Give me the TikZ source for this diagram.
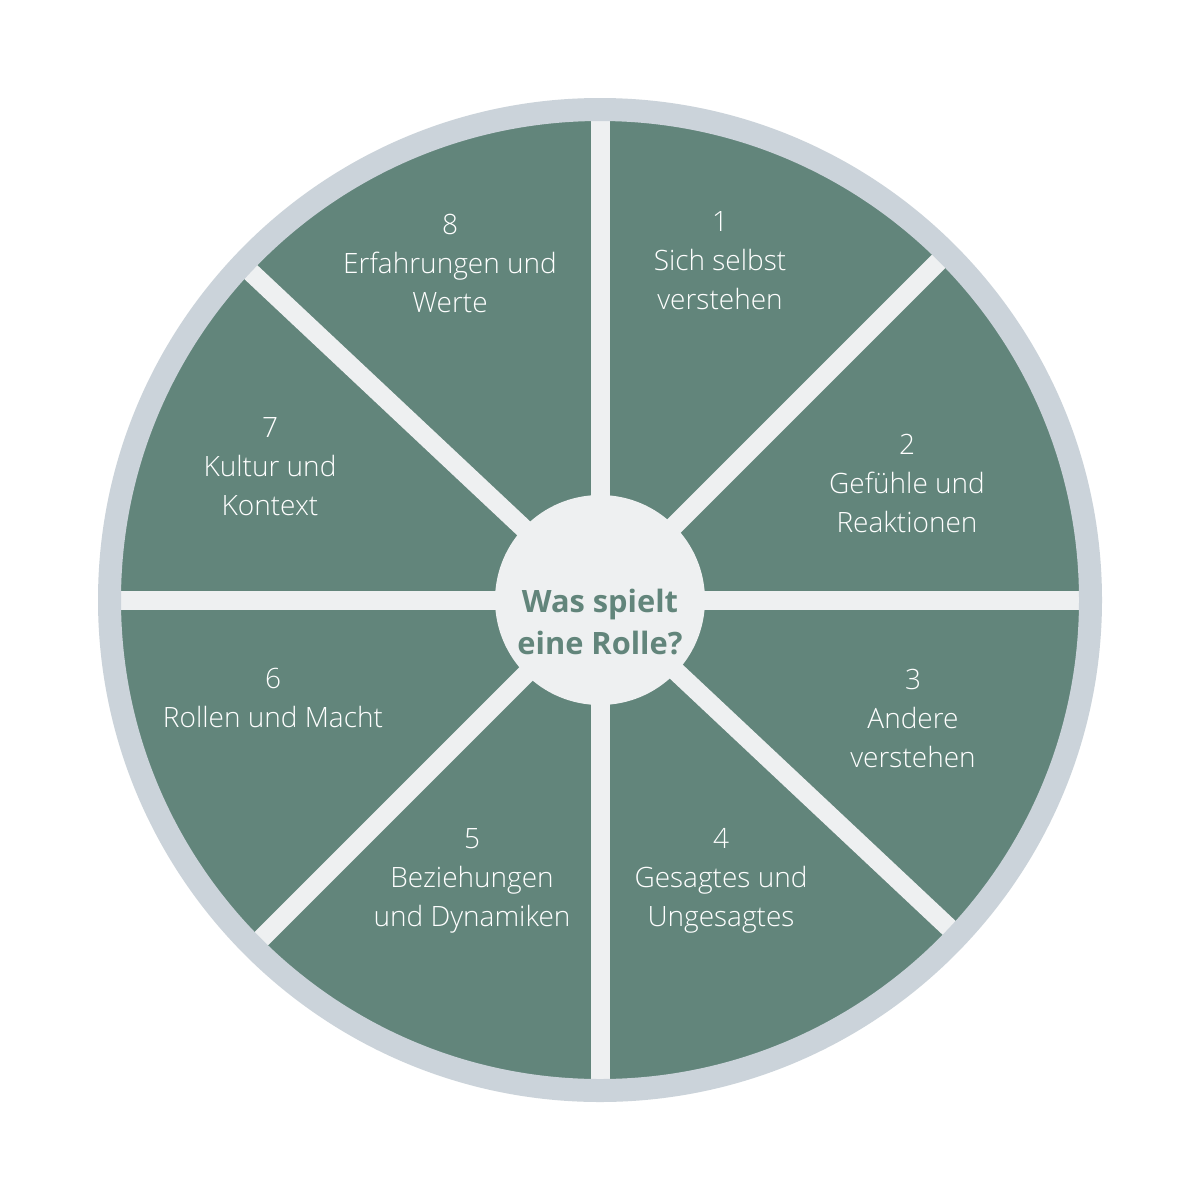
\documentclass[tikz,border=0pt]{standalone}
\usepackage{fontspec}
\setmainfont{Open Sans}
\newfontfamily\lightfont{Open Sans Light}
\definecolor{wheelgreen}{HTML}{62857B}
\definecolor{ringgrey}{HTML}{CBD3DA}
\definecolor{spokegrey}{HTML}{EEF0F1}
\tikzset{
  seglabel/.style={text=white, align=center, font=\lightfont\fontsize{14pt}{19.5pt}\selectfont, inner sep=0pt},
  hublabel/.style={text=wheelgreen, align=center, font=\bfseries\fontsize{15.4pt}{21pt}\selectfont, inner sep=0pt},
  spoke/.style={draw=spokegrey, line width=9.5pt}
}
\begin{document}
\begin{tikzpicture}[x=0.5pt,y=-0.5pt]
\useasboundingbox[fill=white] (0,0) rectangle (1200,1200);
\coordinate (c) at (600,600);
% green disk
\fill[wheelgreen] (c) circle[radius=245pt];
% spokes
\begin{scope}
\clip (c) circle[radius=245pt];
\foreach \a in {0,45,90,136.8,180,225,270,316.8}
  \draw[spoke] (c) -- ++(\a:260pt);
\end{scope}
% outer ring
\draw[ringgrey, line width=11.5pt] (c) circle[radius=245.25pt];
% hub
\fill[spokegrey] (c) circle[radius=52.5pt];
\node[hublabel] (hub) at (600,622) {Was spielt\\eine Rolle?};
% labels
\node[seglabel] (s1) at (720,261) {1\\Sich selbst\\verstehen};
\node[seglabel] (s2) at (907,483) {2\\Gefühle und\\Reaktionen};
\node[seglabel] (s3) at (913,718) {3\\Andere\\verstehen};
\node[seglabel] (s4) at (721,881) {4\\Gesagtes und\\Ungesagtes};
\node[seglabel] (s5) at (472,881) {5\\Beziehungen\\und Dynamiken};
\node[seglabel] (s6) at (273,698) {6\\Rollen und Macht};
\node[seglabel] (s7) at (270,467) {7\\Kultur und\\Kontext};
\node[seglabel] (s8) at (450,263) {8\\Erfahrungen und\\Werte};
\end{tikzpicture}
\end{document}
